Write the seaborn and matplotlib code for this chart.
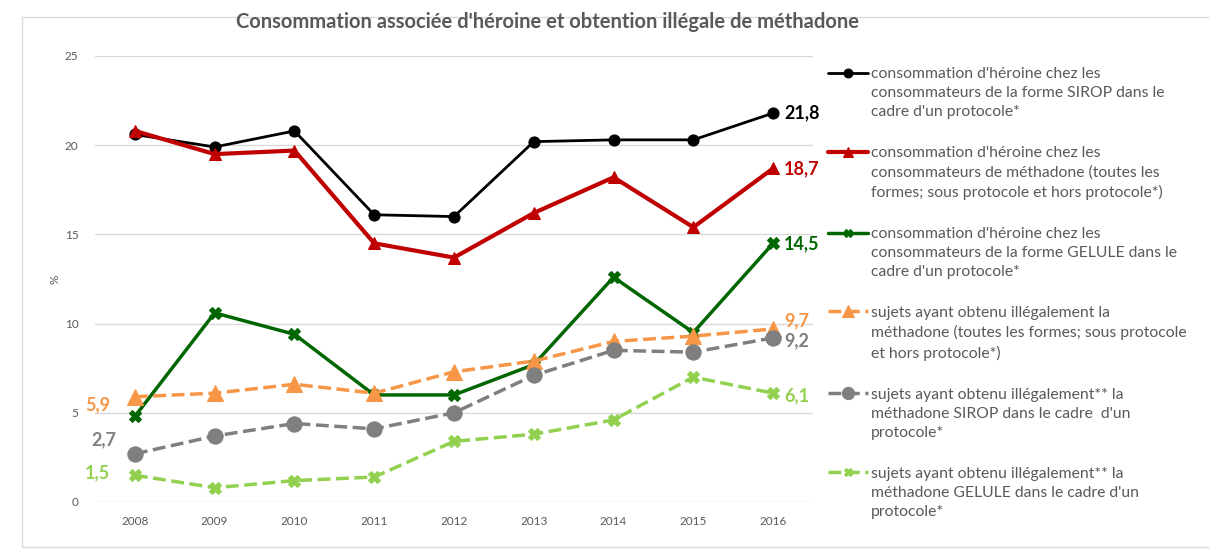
import matplotlib
matplotlib.use("Agg")
import matplotlib.pyplot as plt
import seaborn as sns
import pandas as pd
from matplotlib.patches import Rectangle

# data (percent)
years = [2008, 2009, 2010, 2011, 2012, 2013, 2014, 2015, 2016]
heroine_sirop = [20.6, 19.9, 20.8, 16.1, 16.0, 20.2, 20.3, 20.3, 21.8]
heroine_methadone = [20.8, 19.5, 19.7, 14.5, 13.7, 16.2, 18.2, 15.4, 18.7]
heroine_gelule = [4.8, 10.6, 9.4, 6.0, 6.0, 7.7, 12.6, 9.5, 14.5]
illegal_methadone = [5.9, 6.1, 6.6, 6.1, 7.3, 7.9, 9.0, 9.3, 9.7]
illegal_sirop = [2.7, 3.7, 4.4, 4.1, 5.0, 7.1, 8.5, 8.4, 9.2]
illegal_gelule = [1.5, 0.8, 1.2, 1.4, 3.4, 3.8, 4.6, 7.0, 6.1]

labels = [
    "consommation d'héroine chez les\nconsommateurs de la forme SIROP dans le\ncadre d'un protocole*",
    "consommation d'héroine chez les\nconsommateurs de méthadone (toutes les\nformes; sous protocole et hors protocole*)",
    "consommation d'héroine chez les\nconsommateurs de la forme GELULE dans le\ncadre d'un protocole*",
    "sujets ayant obtenu illégalement la\nméthadone (toutes les formes; sous protocole\net hors protocole*)",
    "sujets ayant obtenu illégalement** la\nméthadone SIROP dans le cadre  d'un\nprotocole*",
    "sujets ayant obtenu illégalement** la\nméthadone GELULE dans le cadre d'un\nprotocole*",
]
series = [heroine_sirop, heroine_methadone, heroine_gelule,
          illegal_methadone, illegal_sirop, illegal_gelule]

# style per series: colour, marker, linestyle, linewidth, marker size
styles = [
    ("#000000", "o", "-", 2.0, 8),
    ("#C00000", "^", "-", 3.0, 9),
    ("#006600", "X", "-", 2.5, 8),
    ("#F79646", "^", "--", 2.5, 11),
    ("#7F7F7F", "o", "--", 2.5, 11),
    ("#92D050", "X", "--", 2.5, 8),
]

sns.set_style("white")
plt.rcParams['font.family'] = ['Lato', 'DejaVu Sans']
grey_txt = "#595959"

fig = plt.figure(figsize=(12.09, 5.5), dpi=100)
ax = fig.add_axes([95 / 1209, 1 - 502 / 550, 718 / 1209, 446 / 550])

for vals, lab, (c, m, ls, lw, ms) in zip(series, labels, styles):
    df = pd.DataFrame({"annee": years, "pct": vals})
    sns.lineplot(data=df, x="annee", y="pct", ax=ax, color=c, marker=m,
                 linestyle=ls, linewidth=lw, markersize=ms,
                 markeredgecolor=c, label=lab)

ax.set_xlim(2007.5, 2016.5)
ax.set_ylim(0, 25)
ax.set_yticks([0, 5, 10, 15, 20, 25])
ax.set_xticks(years)
ax.grid(axis="y", color="#D9D9D9", linewidth=1)
ax.set_axisbelow(True)
for s in ax.spines.values():
    s.set_visible(False)
ax.tick_params(axis="both", length=0, labelsize=8.5, labelcolor=grey_txt)
ax.tick_params(axis="y", pad=12)
ax.tick_params(axis="x", pad=10)
ax.set_xlabel("")
ax.set_ylabel("%", color=grey_txt, fontsize=8.5, labelpad=3)

# value labels at both ends
right_off = [(8, 0), (8, 0), (8, 0), (8, 6), (8, -2), (8, -2)]
left_off = {3: (-18, -6), 4: (-13, 10), 5: (-18, 2)}
for i, (vals, (c, *_)) in enumerate(zip(series, styles)):
    ax.annotate(f"{vals[-1]:.1f}".replace(".", ","), (years[-1], vals[-1]),
                xytext=right_off[i], textcoords="offset points",
                ha="left", va="center", color=c, fontsize=13,
                fontweight="bold")
    if i in left_off:
        ax.annotate(f"{vals[0]:.1f}".replace(".", ","), (years[0], vals[0]),
                    xytext=left_off[i], textcoords="offset points",
                    ha="right", va="center", color=c, fontsize=13,
                    fontweight="bold")

ax.get_legend().remove()
h, l = ax.get_legend_handles_labels()
leg = fig.legend(h, l, loc="upper left", bbox_to_anchor=(822 / 1209, 1 - 61 / 550),
                 frameon=False, fontsize=11.3, handlelength=2.5,
                 labelspacing=1.72, handletextpad=0.2, borderaxespad=0,
                 markerscale=0.8)
for t in leg.get_texts():
    t.set_color(grey_txt)
    t.set_linespacing(1.45)
# put each handle next to the first line of its label
for col in leg._legend_handle_box.get_children():
    for row in col.get_children():
        row.align = "top"

fig.text(548 / 1209, 1 - 22 / 550, "Consommation associée d'héroine et obtention illégale de méthadone",
         ha="center", va="center", fontsize=14.5, fontweight="bold", color=grey_txt)

fig.patches.append(Rectangle((22 / 1209, 1 - 547 / 550), 1.2, 530 / 550,
                             transform=fig.transFigure, fill=False,
                             edgecolor="#D9D9D9", linewidth=1))

fig.savefig("out.png", dpi=100)
